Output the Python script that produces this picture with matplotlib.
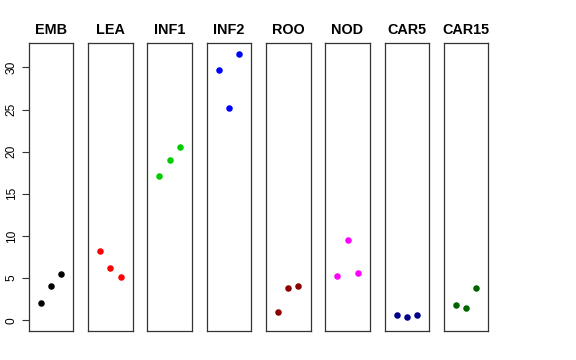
import matplotlib.pyplot as plt

plt.rcParams['font.family'] = ['Liberation Sans', 'DejaVu Sans']

# panel names, colours and the three values in each
groups = ['EMB', 'LEA', 'INF1', 'INF2', 'ROO', 'NOD', 'CAR5', 'CAR15']
colors = ['black', 'red', '#00CD00', 'blue', '#8B0000', 'magenta', '#00008B', '#006400']
values = [
    [2.09, 4.03, 5.53],
    [8.22, 6.24, 5.14],
    [17.08, 18.98, 20.52],
    [29.66, 25.15, 31.63],
    [1.02, 3.80, 4.10],
    [5.29, 9.49, 5.58],
    [0.59, 0.43, 0.63],
    [1.81, 1.42, 3.83],
]
yticks = [0, 5, 10, 15, 20, 25, 30]
xpos = [1, 2, 3]

fig = plt.figure(figsize=(5.76, 3.6), dpi=100)

left0 = 28.7 / 576
step = 59.3 / 576
width = 44.6 / 576
bottom = 1 - 331 / 360
height = (331 - 43.3) / 360

for i, name in enumerate(groups):
    ax = fig.add_axes([left0 + i * step, bottom, width, height])
    ax.scatter(xpos, values[i], color=colors[i], s=22, zorder=3, linewidths=0)
    ax.set_xlim(-0.17, 4.17)
    ax.set_ylim(-1.27, 32.86)
    ax.set_xticks([])
    ax.set_title(name, fontsize=10.4, fontweight='bold', pad=7)
    for sp in ax.spines.values():
        sp.set_linewidth(0.9)
        sp.set_color('#333333')
    if i == 0:
        ax.set_yticks(yticks)
        ax.set_yticklabels([str(t) for t in yticks], rotation=90, va='center', fontsize=8.6)
        ax.tick_params(axis='y', length=5, width=0.8, pad=3, color='#333333')
    else:
        ax.set_yticks([])

fig.savefig('out.png', dpi=100)
